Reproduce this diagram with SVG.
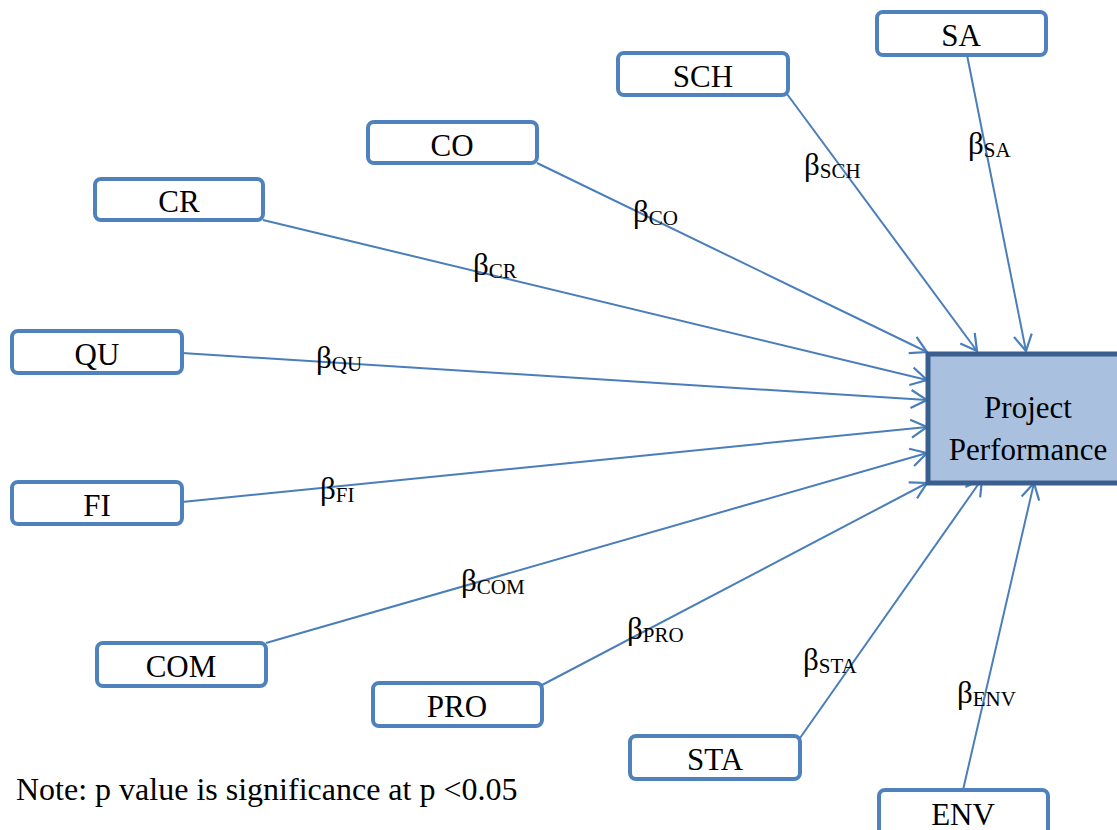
<svg xmlns="http://www.w3.org/2000/svg" width="1117" height="830" viewBox="0 0 1117 830">
<style>
.box{fill:#fff;stroke:#4F81BD;stroke-width:4}
.t{font-family:"Liberation Serif","Times New Roman",serif;font-size:31px;fill:#000;text-anchor:middle}
.b{font-family:"Liberation Serif","Times New Roman",serif;font-size:31px;fill:#000}
.s{font-size:21px}
.c{stroke:#4A7EBB;stroke-width:2;fill:none;marker-end:url(#ah)}
</style>
<defs>
<marker id="ah" markerUnits="userSpaceOnUse" markerWidth="24" markerHeight="24" viewBox="-20 -12 24 24" refX="0" refY="0" orient="auto">
<path d="M-16,-9 L0,0 L-16,9" fill="none" stroke="#4A7EBB" stroke-width="2.2"/>
</marker>
</defs>
<rect width="1117" height="830" fill="#fff"/>
<g id="connectors">
<line class="c" x1="967" y1="55" x2="1026" y2="351"/>
<line class="c" x1="787" y1="94" x2="977" y2="351"/>
<line class="c" x1="537" y1="163" x2="927" y2="352"/>
<line class="c" x1="263" y1="220" x2="927" y2="380"/>
<line class="c" x1="182" y1="353" x2="927" y2="400"/>
<line class="c" x1="182" y1="502" x2="927" y2="427"/>
<line class="c" x1="266" y1="643" x2="927" y2="453"/>
<line class="c" x1="542" y1="685" x2="927" y2="483"/>
<line class="c" x1="800" y1="738" x2="982" y2="479"/>
<line class="c" x1="963" y1="790" x2="1034" y2="483"/>
</g>
<g id="labels">
<text class="b" x="968" y="154">β<tspan class="s" dy="3">SA</tspan></text>
<text class="b" x="804" y="175">β<tspan class="s" dy="3">SCH</tspan></text>
<text class="b" x="633" y="222">β<tspan class="s" dy="3">CO</tspan></text>
<text class="b" x="473" y="275">β<tspan class="s" dy="3">CR</tspan></text>
<text class="b" x="316" y="368">β<tspan class="s" dy="3">QU</tspan></text>
<text class="b" x="320" y="499">β<tspan class="s" dy="3">FI</tspan></text>
<text class="b" x="461" y="591">β<tspan class="s" dy="3">COM</tspan></text>
<text class="b" x="627" y="639">β<tspan class="s" dy="3">PRO</tspan></text>
<text class="b" x="803" y="670">β<tspan class="s" dy="3">STA</tspan></text>
<text class="b" x="957" y="703">β<tspan class="s" dy="3">ENV</tspan></text>
</g>
<g id="node-PP">
<rect x="928" y="354" width="200" height="129" fill="#A9C0DF" stroke="#3A5F8E" stroke-width="5"/>
<text class="t" x="1028" y="418">Project</text>
<text class="t" x="1028" y="460">Performance</text>
</g>
<g id="node-SA"><rect class="box" x="877" y="12" width="169" height="43" rx="6"/><text class="t" x="961" y="46">SA</text></g>
<g id="node-SCH"><rect class="box" x="618" y="53" width="170" height="42" rx="6"/><text class="t" x="703" y="87">SCH</text></g>
<g id="node-CO"><rect class="box" x="368" y="122" width="169" height="41" rx="6"/><text class="t" x="452" y="156">CO</text></g>
<g id="node-CR"><rect class="box" x="95" y="179" width="168" height="41" rx="6"/><text class="t" x="179" y="212">CR</text></g>
<g id="node-QU"><rect class="box" x="12" y="331" width="170" height="42" rx="6"/><text class="t" x="97" y="365">QU</text></g>
<g id="node-FI"><rect class="box" x="12" y="482" width="170" height="42" rx="6"/><text class="t" x="97" y="516">FI</text></g>
<g id="node-COM"><rect class="box" x="97" y="643" width="169" height="43" rx="6"/><text class="t" x="181" y="677">COM</text></g>
<g id="node-PRO"><rect class="box" x="373" y="683" width="169" height="43" rx="6"/><text class="t" x="457" y="717">PRO</text></g>
<g id="node-STA"><rect class="box" x="630" y="736" width="170" height="43" rx="6"/><text class="t" x="715" y="770">STA</text></g>
<g id="node-ENV"><rect class="box" x="879" y="790" width="169" height="46" rx="6"/><text class="t" x="963" y="825">ENV</text></g>
<text class="b" x="16" y="800" style="font-size:32px">Note: p value is significance at p &lt;0.05</text>
</svg>
